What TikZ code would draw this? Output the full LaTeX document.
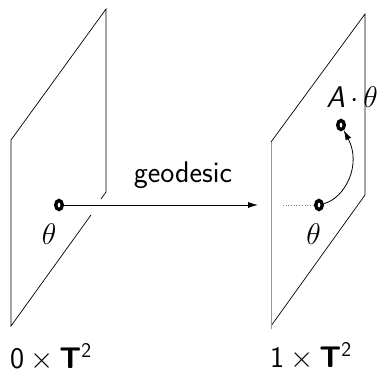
\documentclass[tikz,border=0pt]{standalone}
\usepackage{fix-cm}
\usetikzlibrary{arrows.meta,shapes.geometric}
\tikzset{
 plane/.style={draw=black,line width=0.7bp},
 ptmark/.style={ellipse,draw=black,fill=white,line width=3.4bp,minimum width=6.5bp,minimum height=9bp,inner sep=0pt},
 lbl/.style={inner sep=0pt,font=\fontsize{30}{34}\selectfont\sffamily,text=black},
 tip/.style={-{Latex[length=10bp,width=6bp]},line width=0.8bp}
}
\DeclareMathSizes{30}{30}{21}{15}
\newcommand{\TT}{\textbf{T}}
\newcommand{\prodlabel}[1]{#1\hspace{6bp}$\times$\hspace{6bp}\TT\textsuperscript{2}}
\begin{document}
\begin{tikzpicture}[x=1bp,y=-1bp]
\useasboundingbox (0,0) rectangle (378,373);
\coordinate (la) at (11,326); \coordinate (lb) at (11,140); \coordinate (lc) at (106,9);
\coordinate (ld) at (106,192); \coordinate (le) at (101,199); \coordinate (lf) at (91,215);
\coordinate (ra) at (271,329); \coordinate (rb) at (271,142); \coordinate (rc) at (365,14);
\coordinate (rd) at (365,195); \coordinate (re) at (271,326); \coordinate (dot) at (283,205);
\draw[plane] (lf) -- (la) -- (lb) -- (lc) -- (ld) -- (le);
\draw[plane] (rb) -- (rc) -- (rd) -- (re);
\draw[plane,draw=gray!80,line width=1bp] (ra) -- (rb);
\node[ptmark] (p) at (59,205) {};
\node[ptmark] (q) at (319,205) {};
\node[ptmark] (r) at (341,125) {};
\coordinate (g) at (258,205);
\draw[tip] (p) -- (g);
\draw[dotted,line width=0.7bp,gray] (dot) -- (q);
\draw[tip] (q) .. controls (345,198) and (362,165) .. (r);
\node[lbl] (t1) at (49,234) {$\theta$};
\node[lbl] (t2) at (313.5,234) {$\theta$};
\node[lbl,anchor=base east] (a) at (378,107) {\textit{A}\,$\cdot\,\theta$};
\node[lbl,anchor=base] (g1) at (183,182) {geodesic};
\node[lbl,anchor=base west] (z) at (10,368.5) {\prodlabel{0}};
\node[lbl,anchor=base west] (o) at (270,367) {\prodlabel{1}};
\end{tikzpicture}
\end{document}
